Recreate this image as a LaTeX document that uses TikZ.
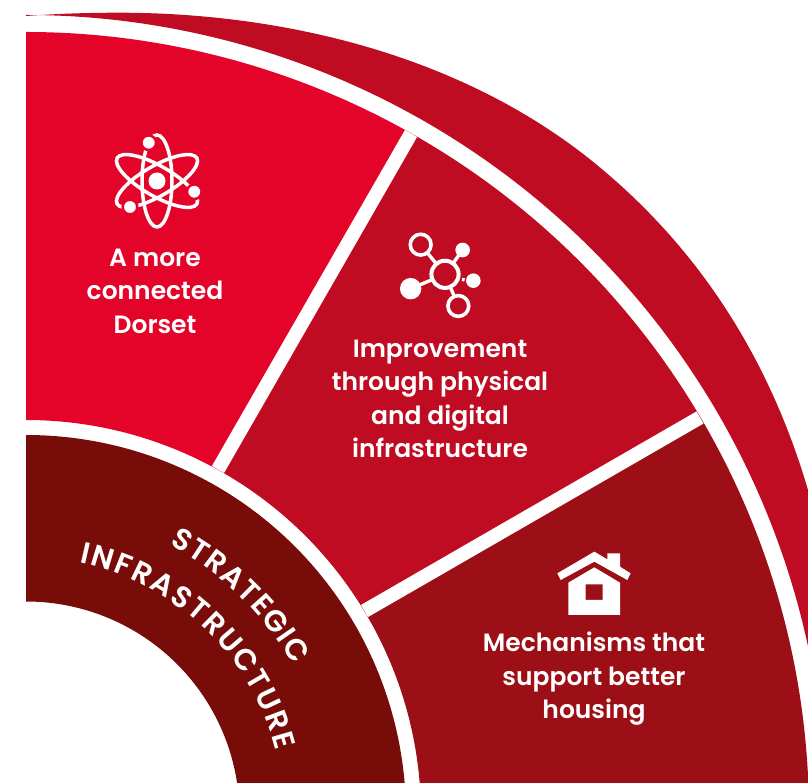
\documentclass[tikz,border=0pt]{standalone}
\usepackage{fontspec}
\setmainfont{Poppins}[UprightFont=* SemiBold]
\usetikzlibrary{decorations.text}
\definecolor{brightred}{HTML}{E4042A}
\definecolor{midred}{HTML}{BF0C22}
\definecolor{deepred}{HTML}{9D0F16}
\definecolor{darkred}{HTML}{780C09}
\newcommand{\titlefmt}{\fontsize{30}{30}\selectfont\color{white}}
\tikzset{
  lab/.style={text=white,align=center,inner sep=0pt,font=\fontsize{25}{33.4}\selectfont},
  divider/.style={white,line width=14pt},
  iconline/.style={white,line width=3.5pt},
  netline/.style={white,line width=3.4pt},
}
\newcommand{\sector}[5]{% colour, a1, a2, r1, r2
  \fill[#1] ([shift={(#2:#5pt)}]26pt,-33pt) arc[start angle=#2,end angle=#3,radius=#5pt]
    -- ([shift={(#3:#4pt)}]26pt,-33pt) arc[start angle=#3,end angle=#2,radius=#4pt] -- cycle;}
\begin{document}
\begin{tikzpicture}[x=1pt,y=1pt]
\useasboundingbox (0,0) rectangle (808,782);
\clip (0,0) rectangle (808,782);
% outer crescent
\fill[midred] (26,766) .. controls (60,768.5) and (90,769.3) .. (120,769.3)
  .. controls (290,769) and (467,724) .. (597,617)
  .. controls (682,547) and (763,445) .. (808,292) -- (830,220)
  -- ([shift={(-8:800pt)}]26pt,-33pt) arc[start angle=-8,end angle=90,radius=800pt] -- cycle;
% sectors
\sector{brightred}{60.7}{90}{395}{783}
\sector{midred}{30.8}{60.7}{395}{783}
\sector{deepred}{-8}{30.8}{395}{783}
\sector{darkred}{-8}{90}{213.5}{380}
% dividers
\draw[divider] (218,312.5) -- (411,648.5);
\draw[divider] (364.5,171) -- (700,364.5);
% curved titles
\path[decorate,decoration={text along path,text align={fit to path},text={|\titlefmt|STRATEGIC}}]
  ([shift={(62:306pt)}]26pt,-33pt) arc[start angle=62,end angle=29.3,radius=306pt];
\path[decorate,decoration={text along path,text align={fit to path},text={|\titlefmt|INFRASTRUCTURE}}]
  ([shift={(78:258pt)}]26pt,-33pt) arc[start angle=78,end angle=14.5,radius=258pt];
% labels
\node[lab] (connected) at (155,491) {A more\\connected\\Dorset};
\node[lab] (improve) at (440,383) {Improvement\\through physical\\and digital\\infrastructure};
\node[lab] (housing) at (594,103) {Mechanisms that\\support better\\housing};
% atom icon
\begin{scope}[shift={(157,601)}]
  \foreach \a in {90,30,-30}
    \draw[iconline,rotate=\a] (0,0) ellipse[x radius=46pt,y radius=15pt];
  \fill[white] (0,0) circle[radius=8.5pt];
  \foreach \p in {(-8.3,38.3),(37.3,-10.7),(-27,-26)}
    \filldraw[white,draw=brightred,line width=2.5pt] \p circle[radius=7.3pt];
\end{scope}
% network icon
\begin{scope}[shift={(390,562)},x=0.3333pt,y=-0.3333pt]
  \coordinate (c) at (165,163);
  \coordinate (tl) at (92,74);
  \coordinate (bt) at (205,258);
  \coordinate (bl) at (62,206);
  \coordinate (tr) at (218,90);
  \coordinate (rt) at (250,182);
  \draw[netline] (c) -- (tl) (c) -- (bt) (c) -- (bl) (c) -- (tr);
  \fill[midred] (c) circle[radius=13.5pt] (tl) circle[radius=10.5pt] (bt) circle[radius=10.5pt];
  \draw[white,line width=4pt] (c) circle[radius=13.6pt];
  \draw[white,line width=3.6pt] (tl) circle[radius=10.4pt] (bt) circle[radius=10.4pt];
  \fill[white] (bl) circle[radius=10.7pt] (tr) circle[radius=7.3pt] (rt) circle[radius=7.3pt];
  \draw[white,line width=2.6pt] (221,174) -- (219,184);
\end{scope}
% house icon
\begin{scope}[shift={(540,242)},x=0.3333pt,y=-0.3333pt]
  \fill[white] (52,100) -- (163,35) -- (202,58) -- (202,40) -- (240,40) -- (240,80) -- (272,100) -- (262,120) -- (163,65) -- (62,120) -- cycle;
  \fill[white,even odd rule] (85,225) -- (85,128) -- (163,82) -- (240,128) -- (240,225) -- cycle
     (137,133) rectangle (188,180);
\end{scope}
\end{tikzpicture}
\end{document}
